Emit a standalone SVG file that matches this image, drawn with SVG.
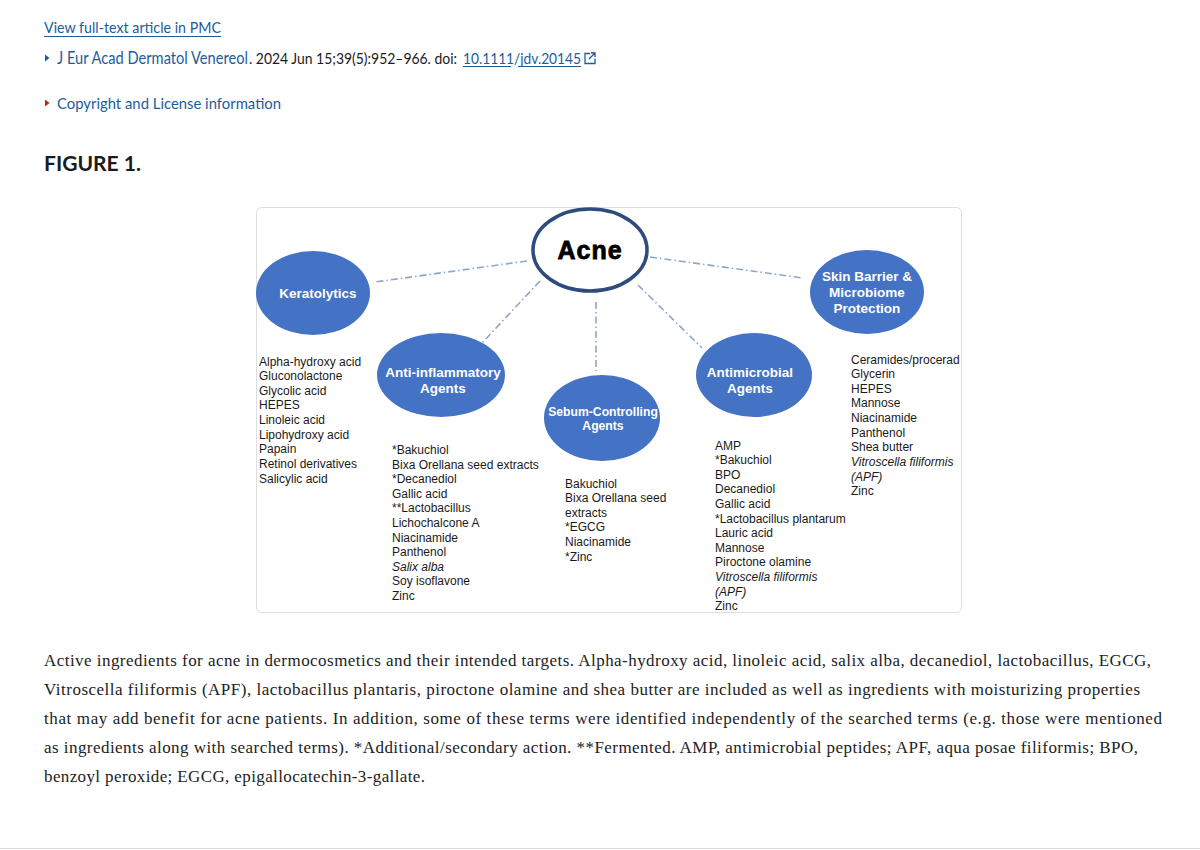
<svg xmlns="http://www.w3.org/2000/svg" width="1200" height="850" viewBox="0 0 1200 850">
<defs>
<style>
.hdr{font-family:Lato,"Noto Sans","Liberation Sans",sans-serif;font-size:16px}
.lnk{fill:#1d5c9c}
.dark{fill:#1b1b1b}
.fig{font-family:Lato,"Noto Sans","Liberation Sans",sans-serif;font-size:21px;font-weight:bold;fill:#1b1b1b}
.cap{font-family:"Liberation Serif","DejaVu Serif",serif;font-size:17px;fill:#222}
.node{fill:#4472c4}
.lbl{font-family:"Liberation Sans",Arial,sans-serif;font-size:13.5px;font-weight:bold;fill:#fff;text-anchor:middle}
.lst{font-family:"Liberation Sans",Arial,sans-serif;font-size:12px;fill:#1a1a1a}
.it{font-style:italic}
.con{stroke:#8ea6cc;stroke-width:1.6;stroke-dasharray:7 3 1.5 3;fill:none}
</style>
</defs>
<rect width="1200" height="850" fill="#fff"/>

<!-- header -->
<g id="header">
<text class="hdr lnk" x="44" y="33" textLength="177" lengthAdjust="spacingAndGlyphs">View full-text article in PMC</text>
<line x1="44" y1="36.5" x2="221" y2="36.5" stroke="#1d5c9c" stroke-width="1"/>
<polygon points="45,54.5 49.5,58 45,61.5" fill="#1d5c9c"/>
<text class="hdr lnk" x="57" y="63.5" style="font-size:16.3px" textLength="191" lengthAdjust="spacingAndGlyphs">J Eur Acad Dermatol Venereol</text>
<text class="hdr dark" x="249" y="63.5" style="font-size:14.8px" textLength="208" lengthAdjust="spacingAndGlyphs">. 2024 Jun 15;39(5):952–966. doi:</text>
<text class="hdr lnk" x="463" y="63.5" style="font-size:15.5px" textLength="118" lengthAdjust="spacingAndGlyphs">10.1111/jdv.20145</text>
<line x1="463" y1="66.5" x2="511" y2="66.5" stroke="#1d5c9c" stroke-width="1"/>
<line x1="518" y1="66.5" x2="581" y2="66.5" stroke="#1d5c9c" stroke-width="1"/>
<path d="M590,53.5 h-5 v10 h10 v-5 M589,59 l6,-6 M591,53 h4 v4" stroke="#1d5c9c" stroke-width="1.3" fill="none"/>
<polygon points="45,99.5 49.5,103 45,106.5" fill="#d9191c"/>
<text class="hdr lnk" x="57" y="108.5" textLength="224" lengthAdjust="spacingAndGlyphs">Copyright and License information</text>
<text class="fig" x="44" y="171" textLength="97" lengthAdjust="spacingAndGlyphs">FIGURE 1.</text>
</g>

<!-- figure frame -->
<rect x="256.5" y="207.5" width="705" height="405" rx="5" fill="#fff" stroke="#dedede" stroke-width="1"/>

<!-- connectors -->
<g id="connectors">
<line class="con" x1="527" y1="261" x2="375" y2="282"/>
<line class="con" x1="540" y1="281" x2="482" y2="343"/>
<line class="con" x1="596" y1="302" x2="596" y2="371"/>
<line class="con" x1="638" y1="285" x2="702" y2="348"/>
<line class="con" x1="650" y1="257" x2="803" y2="278"/>
</g>

<g id="acne">
<ellipse cx="590" cy="250" rx="57" ry="41" fill="#fff" stroke="#2e4b7e" stroke-width="3.5"/>
<text x="590" y="259" font-family="'Liberation Sans',Arial,sans-serif" font-size="25" font-weight="bold" letter-spacing="1" text-anchor="middle" fill="#000" stroke="#000" stroke-width="0.8">Acne</text>
</g>

<g id="keratolytics">
<ellipse class="node" cx="313" cy="293" rx="57" ry="42"/>
<text class="lbl" x="318" y="298">Keratolytics</text>
<text class="lst" x="259" y="365.5">
<tspan x="259">Alpha-hydroxy acid</tspan>
<tspan x="259" dy="14.65">Gluconolactone</tspan>
<tspan x="259" dy="14.65">Glycolic acid</tspan>
<tspan x="259" dy="14.65">HEPES</tspan>
<tspan x="259" dy="14.65">Linoleic acid</tspan>
<tspan x="259" dy="14.65">Lipohydroxy acid</tspan>
<tspan x="259" dy="14.65">Papain</tspan>
<tspan x="259" dy="14.65">Retinol derivatives</tspan>
<tspan x="259" dy="14.65">Salicylic acid</tspan>
</text>
</g>

<g id="anti-inflammatory">
<ellipse class="node" cx="441" cy="375" rx="64" ry="42"/>
<text class="lbl" x="443" y="377">Anti-inflammatory</text>
<text class="lbl" x="443" y="393">Agents</text>
<text class="lst" x="392" y="454">
<tspan x="392">*Bakuchiol</tspan>
<tspan x="392" dy="14.6">Bixa Orellana seed extracts</tspan>
<tspan x="392" dy="14.6">*Decanediol</tspan>
<tspan x="392" dy="14.6">Gallic acid</tspan>
<tspan x="392" dy="14.6">**Lactobacillus</tspan>
<tspan x="392" dy="14.6">Lichochalcone A</tspan>
<tspan x="392" dy="14.6">Niacinamide</tspan>
<tspan x="392" dy="14.6">Panthenol</tspan>
<tspan x="392" dy="14.6" class="it">Salix alba</tspan>
<tspan x="392" dy="14.6">Soy isoflavone</tspan>
<tspan x="392" dy="14.6">Zinc</tspan>
</text>
</g>

<g id="sebum-controlling">
<ellipse class="node" cx="602" cy="418" rx="58" ry="43"/>
<text class="lbl" x="603" y="416" style="font-size:12.2px">Sebum-Controlling</text>
<text class="lbl" x="603" y="430" style="font-size:12.2px">Agents</text>
<text class="lst" x="565" y="487.5">
<tspan x="565">Bakuchiol</tspan>
<tspan x="565" dy="14.6">Bixa Orellana seed</tspan>
<tspan x="565" dy="14.6">extracts</tspan>
<tspan x="565" dy="14.6">*EGCG</tspan>
<tspan x="565" dy="14.6">Niacinamide</tspan>
<tspan x="565" dy="14.6">*Zinc</tspan>
</text>
</g>

<g id="antimicrobial">
<ellipse class="node" cx="754" cy="375" rx="58" ry="42"/>
<text class="lbl" x="750" y="377">Antimicrobial</text>
<text class="lbl" x="750" y="393">Agents</text>
<text class="lst" x="715" y="449.5">
<tspan x="715">AMP</tspan>
<tspan x="715" dy="14.6">*Bakuchiol</tspan>
<tspan x="715" dy="14.6">BPO</tspan>
<tspan x="715" dy="14.6">Decanediol</tspan>
<tspan x="715" dy="14.6">Gallic acid</tspan>
<tspan x="715" dy="14.6">*Lactobacillus plantarum</tspan>
<tspan x="715" dy="14.6">Lauric acid</tspan>
<tspan x="715" dy="14.6">Mannose</tspan>
<tspan x="715" dy="14.6">Piroctone olamine</tspan>
<tspan x="715" dy="14.6" class="it">Vitroscella filiformis</tspan>
<tspan x="715" dy="14.6" class="it">(APF)</tspan>
<tspan x="715" dy="14.6">Zinc</tspan>
</text>
</g>

<g id="skin-barrier">
<ellipse class="node" cx="867" cy="292" rx="57" ry="42"/>
<text class="lbl" x="867" y="281">Skin Barrier &amp;</text>
<text class="lbl" x="867" y="297">Microbiome</text>
<text class="lbl" x="867" y="313">Protection</text>
<text class="lst" x="851" y="363.5">
<tspan x="851">Ceramides/procerad</tspan>
<tspan x="851" dy="14.65">Glycerin</tspan>
<tspan x="851" dy="14.65">HEPES</tspan>
<tspan x="851" dy="14.65">Mannose</tspan>
<tspan x="851" dy="14.65">Niacinamide</tspan>
<tspan x="851" dy="14.65">Panthenol</tspan>
<tspan x="851" dy="14.65">Shea butter</tspan>
<tspan x="851" dy="14.65" class="it">Vitroscella filiformis</tspan>
<tspan x="851" dy="14.65" class="it">(APF)</tspan>
<tspan x="851" dy="14.65">Zinc</tspan>
</text>
</g>

<!-- caption -->
<g id="caption">
<text class="cap" x="44" y="666" textLength="1107" lengthAdjust="spacing">Active ingredients for acne in dermocosmetics and their intended targets. Alpha-hydroxy acid, linoleic acid, salix alba, decanediol, lactobacillus, EGCG,</text>
<text class="cap" x="44" y="695" textLength="1096" lengthAdjust="spacing">Vitroscella filiformis (APF), lactobacillus plantaris, piroctone olamine and shea butter are included as well as ingredients with moisturizing properties</text>
<text class="cap" x="44" y="724" textLength="1118" lengthAdjust="spacing">that may add benefit for acne patients. In addition, some of these terms were identified independently of the searched terms (e.g. those were mentioned</text>
<text class="cap" x="44" y="753" textLength="1094" lengthAdjust="spacing">as ingredients along with searched terms). *Additional/secondary action. **Fermented. AMP, antimicrobial peptides; APF, aqua posae filiformis; BPO,</text>
<text class="cap" x="44" y="782" textLength="381" lengthAdjust="spacing">benzoyl peroxide; EGCG, epigallocatechin-3-gallate.</text>
</g>
<line x1="0" y1="848.5" x2="1200" y2="848.5" stroke="#dcdcdc" stroke-width="1"/>
</svg>
